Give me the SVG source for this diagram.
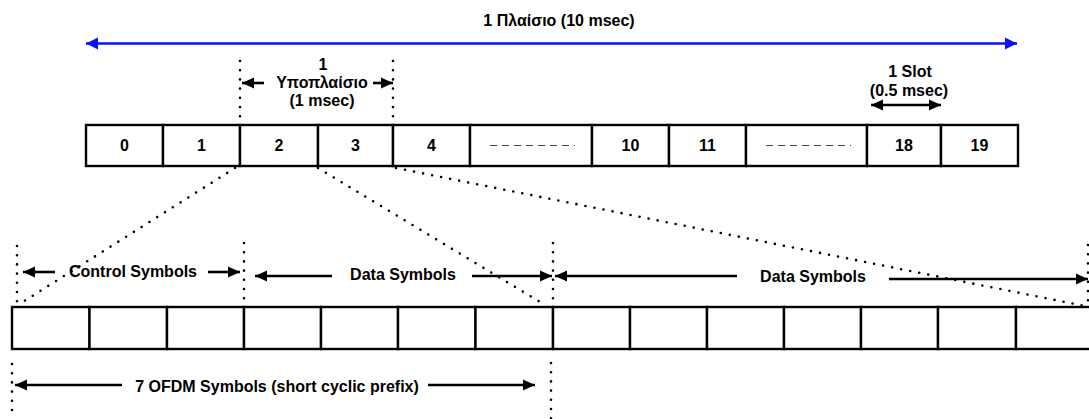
<svg xmlns="http://www.w3.org/2000/svg" width="1089" height="419" viewBox="0 0 1089 419">
  <style>
    .cell { fill: #ffffff; stroke: #000000; stroke-width: 2.4; }
    .lbl { font-family: "Liberation Sans", Arial, sans-serif; font-weight: bold; font-size: 16px; fill: #000000; text-anchor: middle; }
    .dots { fill: none; stroke: #000000; stroke-width: 2.6; stroke-linecap: round; stroke-dasharray: 0 9.2; }
    .arr { fill: none; stroke: #000000; stroke-width: 2.6; }
    .blue { fill: none; stroke: #0a14f0; stroke-width: 2.6; }
    .gap { stroke: #444444; stroke-width: 1.2; stroke-dasharray: 7 5; }
  </style>
  <defs>
    <marker id="ah" markerUnits="userSpaceOnUse" markerWidth="12" markerHeight="12" refX="12" refY="6" orient="auto-start-reverse">
      <path d="M0,0.5 L12,6 L0,11.5 z" fill="#000000"/>
    </marker>
    <marker id="ahb" markerUnits="userSpaceOnUse" markerWidth="12" markerHeight="13" refX="12" refY="6.5" orient="auto-start-reverse">
      <path d="M0,0.5 L12,6.5 L0,12.5 z" fill="#0a14f0"/>
    </marker>
  </defs>

  <rect width="1089" height="419" fill="#ffffff"/>

  <!-- frame: 20 slots -->
  <g id="frame">
    <g id="slot-0"><rect class="cell" x="86" y="125" width="77" height="41"/><text class="lbl" x="124.5" y="151">0</text></g>
    <g id="slot-1"><rect class="cell" x="163" y="125" width="77" height="41"/><text class="lbl" x="201.5" y="151">1</text></g>
    <g id="slot-2"><rect class="cell" x="240" y="125" width="78" height="41"/><text class="lbl" x="279" y="151">2</text></g>
    <g id="slot-3"><rect class="cell" x="318" y="125" width="75" height="41"/><text class="lbl" x="355.5" y="151">3</text></g>
    <g id="slot-4"><rect class="cell" x="393" y="125" width="77" height="41"/><text class="lbl" x="431.5" y="151">4</text></g>
    <g id="slot-5-9"><rect class="cell" x="470" y="125" width="122" height="41"/><line class="gap" x1="490" y1="145.5" x2="575" y2="145.5"/></g>
    <g id="slot-10"><rect class="cell" x="592" y="125" width="77" height="41"/><text class="lbl" x="630.5" y="151">10</text></g>
    <g id="slot-11"><rect class="cell" x="669" y="125" width="77" height="41"/><text class="lbl" x="707.5" y="151">11</text></g>
    <g id="slot-12-17"><rect class="cell" x="746" y="125" width="121" height="41"/><line class="gap" x1="766" y1="145.5" x2="851" y2="145.5"/></g>
    <g id="slot-18"><rect class="cell" x="867" y="125" width="74" height="41"/><text class="lbl" x="904" y="151">18</text></g>
    <g id="slot-19"><rect class="cell" x="941" y="125" width="77" height="41"/><text class="lbl" x="979.5" y="151">19</text></g>
  </g>

  <!-- OFDM symbols of one subframe -->
  <g id="symbols">
    <rect class="cell" x="12" y="307" width="77.5" height="42"/>
    <rect class="cell" x="89.5" y="307" width="77.5" height="42"/>
    <rect class="cell" x="167" y="307" width="77" height="42"/>
    <rect class="cell" x="244" y="307" width="77" height="42"/>
    <rect class="cell" x="321" y="307" width="77" height="42"/>
    <rect class="cell" x="398" y="307" width="77.5" height="42"/>
    <rect class="cell" x="475.5" y="307" width="77.5" height="42"/>
    <rect class="cell" x="553" y="307" width="77" height="42"/>
    <rect class="cell" x="630" y="307" width="77" height="42"/>
    <rect class="cell" x="707" y="307" width="77" height="42"/>
    <rect class="cell" x="784" y="307" width="77" height="42"/>
    <rect class="cell" x="861" y="307" width="77" height="42"/>
    <rect class="cell" x="938" y="307" width="78" height="42"/>
    <rect class="cell" x="1016" y="307" width="78" height="42"/>
  </g>

  <!-- labels -->
  <g id="label-frame"><text class="lbl" x="559" y="26">1 Πλαίσιο (10 msec)</text></g>
  <g id="label-subframe">
    <text class="lbl" x="323" y="70">1</text>
    <text class="lbl" x="322" y="88">Υποπλαίσιο</text>
    <text class="lbl" x="322" y="106">(1 msec)</text>
  </g>
  <g id="label-slot">
    <text class="lbl" x="910" y="77">1 Slot</text>
    <text class="lbl" x="909" y="96">(0.5 msec)</text>
  </g>
  <g id="label-control"><text class="lbl" x="133" y="277">Control Symbols</text></g>
  <g id="label-data-1"><text class="lbl" x="403" y="280">Data Symbols</text></g>
  <g id="label-data-2"><text class="lbl" x="813" y="282">Data Symbols</text></g>
  <g id="label-ofdm"><text class="lbl" x="277" y="392">7 OFDM Symbols (short cyclic prefix)</text></g>

  <g id="connectors">
    <!-- frame span -->
    <line class="blue" x1="86" y1="43.5" x2="1017" y2="43.5" marker-start="url(#ahb)" marker-end="url(#ahb)"/>
    <!-- subframe bounds -->
    <line class="dots" x1="240" y1="61" x2="240" y2="120"/>
    <line class="dots" x1="393" y1="61" x2="393" y2="120"/>
    <line class="arr" x1="264" y1="83" x2="242" y2="83" marker-end="url(#ah)"/>
    <line class="arr" x1="373" y1="83" x2="393" y2="83" marker-end="url(#ah)"/>
    <!-- slot span -->
    <line class="arr" x1="871" y1="105" x2="941" y2="105" marker-start="url(#ah)" marker-end="url(#ah)"/>
    <!-- zoom projections -->
    <line class="dots" x1="235" y1="168" x2="18" y2="305"/>
    <line class="dots" x1="318" y1="168" x2="545" y2="305"/>
    <line class="dots" x1="396" y1="168" x2="1085" y2="306"/>
    <!-- symbol group bounds -->
    <line class="dots" x1="17" y1="246" x2="17" y2="302"/>
    <line class="dots" x1="244" y1="243" x2="244" y2="302"/>
    <line class="dots" x1="553" y1="243" x2="553" y2="302"/>
    <line class="dots" x1="1088" y1="245" x2="1088" y2="302"/>
    <line class="dots" x1="12" y1="364" x2="12" y2="419"/>
    <line class="dots" x1="551" y1="363" x2="551" y2="419"/>
    <!-- symbol group spans -->
    <line class="arr" x1="55" y1="272" x2="23" y2="272" marker-end="url(#ah)"/>
    <line class="arr" x1="208" y1="272" x2="240" y2="272" marker-end="url(#ah)"/>
    <line class="arr" x1="332" y1="276" x2="255" y2="276" marker-end="url(#ah)"/>
    <line class="arr" x1="472" y1="276" x2="552" y2="276" marker-end="url(#ah)"/>
    <line class="arr" x1="737" y1="276" x2="555" y2="276" marker-end="url(#ah)"/>
    <line class="arr" x1="889" y1="279" x2="1088" y2="279" marker-end="url(#ah)"/>
    <line class="arr" x1="122" y1="385" x2="15" y2="385" marker-end="url(#ah)"/>
    <line class="arr" x1="428" y1="385" x2="535" y2="385" marker-end="url(#ah)"/>
  </g>
</svg>
